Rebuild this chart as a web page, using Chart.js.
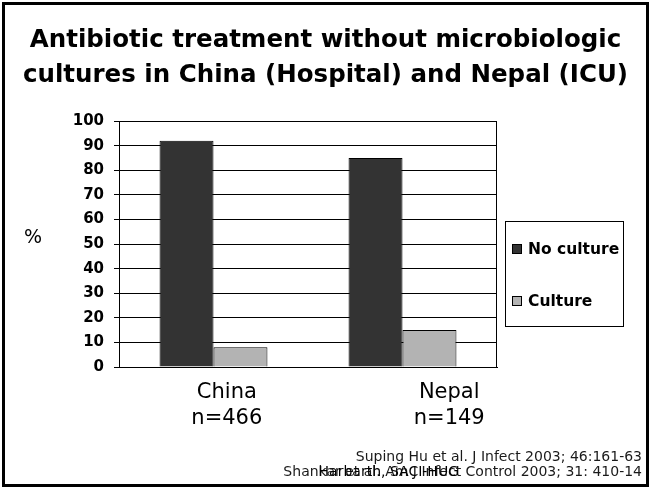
<!DOCTYPE html>
<html>
<head>
<meta charset="utf-8">
<script src="https://cdn.jsdelivr.net/npm/chart.js@4"></script>
<style>
  html, body { margin: 0; padding: 0; background: #ffffff; }
  #wrap { width: 651px; height: 490px; }
</style>
</head>
<body>
<div id="wrap"><canvas id="chart" width="651" height="490"></canvas></div>
<script>
// ---- data ----
const categories = ['China', 'Nepal'];
const sampleSizes = [466, 149];
const seriesNames = ['No culture', 'Culture'];
const noCultureValues = [92, 85];
const cultureValues = [8, 15];
const yTickValues = [0, 10, 20, 30, 40, 50, 60, 70, 80, 90, 100];
const titleLines = [
  'Antibiotic treatment without microbiologic',
  'cultures in China (Hospital) and Nepal (ICU)'
];
const yUnit = '%';
const references = [
  'Suping Hu et al. J Infect 2003; 46:161-63',
  'Shankar et al. Am J Infect Control 2003; 31: 410-14'
];
const overlayNote = 'Harbarth, SACI-HUG';

// ---- styles ----
const FONT = "'DejaVu Sans', Verdana, sans-serif";
const seriesColors = ['#333333', '#b3b3b3'];
const labelIndent = [4, 14]; // leading spaces before each category label

const chartDecor = {
  id: 'chartDecor',
  beforeDraw(chart) {
    const ctx = chart.ctx;
    ctx.save();
    ctx.fillStyle = '#ffffff';
    ctx.fillRect(0, 0, chart.width, chart.height);
    ctx.restore();
  },
  afterDraw(chart) {
    const ctx = chart.ctx;
    const area = chart.chartArea;
    ctx.save();

    // right edge of the plot frame
    ctx.strokeStyle = '#000';
    ctx.lineWidth = 1;
    const rx = Math.round(area.right) - 0.5;
    ctx.beginPath();
    ctx.moveTo(rx, Math.round(area.top) + 0.5);
    ctx.lineTo(rx, Math.round(area.bottom) + 0.5);
    ctx.stroke();

    // unit label on the left
    ctx.fillStyle = '#000';
    ctx.font = '19px ' + FONT;
    ctx.textAlign = 'center';
    ctx.textBaseline = 'middle';
    ctx.fillText(yUnit, 33, 238);

    // legend box
    ctx.strokeStyle = '#000';
    ctx.lineWidth = 1;
    ctx.strokeRect(505.5, 221.5, 118, 105);
    const itemY = [249, 301];
    chart.data.datasets.forEach((ds, i) => {
      ctx.fillStyle = ds.backgroundColor;
      ctx.fillRect(512, itemY[i] - 5, 10, 10);
      ctx.strokeStyle = '#000';
      ctx.strokeRect(512.5, itemY[i] - 4.5, 9, 9);
      ctx.fillStyle = '#000';
      ctx.font = 'bold 15.5px ' + FONT;
      ctx.textAlign = 'left';
      ctx.textBaseline = 'middle';
      ctx.fillText(ds.label, 528, itemY[i] + 1);
    });

    // references
    ctx.fillStyle = '#1a1a1a';
    ctx.font = '14px ' + FONT;
    ctx.textAlign = 'right';
    ctx.textBaseline = 'alphabetic';
    ctx.fillText(references[0], 642, 460.5);
    ctx.fillText(references[1], 642, 475.5);
    // second note printed over the start of the last line
    const lineStart = 642 - ctx.measureText(references[1]).width;
    const noteX = lineStart + ctx.measureText('Shan').width;
    ctx.textAlign = 'left';
    ctx.fillStyle = '#000';
    ctx.fillText(overlayNote, noteX, 475.5);

    // outer frame
    ctx.strokeStyle = '#000';
    ctx.lineWidth = 3;
    ctx.strokeRect(3.5, 3.5, 644, 482);
    ctx.restore();
  }
};

new Chart(document.getElementById('chart'), {
  type: 'bar',
  data: {
    labels: categories,
    datasets: [
      {
        label: seriesNames[0],
        data: noCultureValues,
        backgroundColor: seriesColors[0],
        borderColor: '#000',
        borderWidth: 1
      },
      {
        label: seriesNames[1],
        data: cultureValues,
        backgroundColor: seriesColors[1],
        borderColor: '#000',
        borderWidth: 1
      }
    ]
  },
  options: {
    responsive: false,
    animation: false,
    devicePixelRatio: 1,
    categoryPercentage: 0.571,
    barPercentage: 1,
    layout: { padding: 0 },
    plugins: {
      legend: { display: false },
      tooltip: { enabled: false },
      title: {
        display: true,
        text: titleLines,
        color: '#000',
        font: { family: FONT, size: 24.5, weight: 'bold', lineHeight: 1.42 },
        padding: { top: 23, bottom: 28.5 }
      }
    },
    scales: {
      x: {
        grid: { display: false },
        border: { color: '#000', width: 1 },
        ticks: {
          color: '#000',
          font: { family: FONT, size: 21, lineHeight: 1.22 },
          padding: 5,
          maxRotation: 0,
          autoSkip: false,
          callback: (v, i) => {
            const pad = ' '.repeat(labelIndent[i]);
            return [pad + categories[i], pad + 'n=' + sampleSizes[i]];
          }
        },
        afterFit: (scale) => { scale.height = 123; }
      },
      y: {
        min: 0,
        max: 100,
        afterBuildTicks: (scale) => { scale.ticks = yTickValues.map(v => ({ value: v })); },
        grid: { color: '#000', lineWidth: 1, tickLength: 5 },
        border: { color: '#000', width: 1 },
        ticks: {
          color: '#000',
          font: { family: FONT, size: 15, weight: 'bold' },
          padding: 10
        },
        afterFit: (scale) => { scale.width = 119; }
      },
      // empty strip on the right that holds the legend box
      legendStrip: {
        type: 'linear',
        position: 'right',
        display: true,
        grid: { display: false },
        border: { display: false },
        ticks: { display: false },
        afterFit: (scale) => { scale.width = 154; }
      }
    }
  },
  plugins: [chartDecor]
});
</script>
</body>
</html>
